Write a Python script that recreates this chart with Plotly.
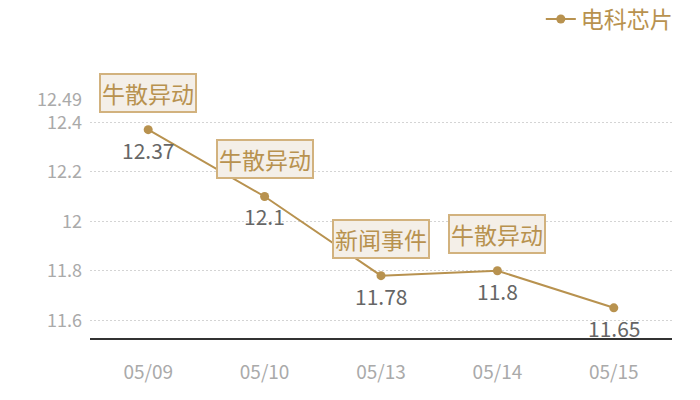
import plotly.graph_objects as go

dates = ["05/09", "05/10", "05/13", "05/14", "05/15"]
prices = [12.37, 12.1, 11.78, 11.8, 11.65]
price_text = ["12.37", "12.1", "11.78", "11.8", "11.65"]
events = ["牛散异动", "牛散异动", "新闻事件", "牛散异动", None]
y_ticks = [11.6, 11.8, 12.0, 12.2, 12.4, 12.49]
y_tick_text = ["11.6", "11.8", "12", "12.2", "12.4", "12.49"]
series_name = "电科芯片"

gold = "#b8924f"
font_family = "Noto Sans CJK SC, Noto Sans, sans-serif"

fig = go.Figure()
fig.add_trace(go.Scatter(
    x=dates, y=prices, name=series_name,
    mode="lines+markers",
    line=dict(color=gold, width=2),
    marker=dict(color=gold, size=9),
))

annotations = []
for d, p, t in zip(dates, prices, price_text):
    annotations.append(dict(
        x=d, y=p, text=t, showarrow=False, yanchor="top", yshift=-3,
        font=dict(size=21, color="#666666", family=font_family),
    ))
for d, p, e in zip(dates, prices, events):
    if e:
        annotations.append(dict(
            x=d, y=p, text=e, showarrow=False, yanchor="bottom", yshift=17,
            font=dict(size=23, color=gold, family=font_family),
            bgcolor="#f4efe8", bordercolor="#d2b27e", borderwidth=2, borderpad=1,
        ))

fig.update_layout(
    width=700, height=400,
    margin=dict(l=90, r=28, t=100, b=62, autoexpand=False),
    plot_bgcolor="white", paper_bgcolor="white",
    font=dict(family=font_family),
    showlegend=True,
    legend=dict(
        orientation="h", x=1.01, xanchor="right", y=1.34, yanchor="middle",
        font=dict(size=23, color=gold, family=font_family),
        bgcolor="rgba(0,0,0,0)",
    ),
    annotations=annotations,
    xaxis=dict(
        type="category", range=[-0.5, len(dates) - 0.5],
        showgrid=False, zeroline=False,
        showline=True, linecolor="#333333", linewidth=1.5,
        ticks="", tickfont=dict(size=19, color="#aaaaaa"),
        ticklabelstandoff=16,
    ),
    yaxis=dict(
        range=[11.528, 12.49], tickvals=y_ticks, ticktext=y_tick_text,
        showgrid=True, gridcolor="#d4d4d4", griddash="2px,2px", gridwidth=1,
        zeroline=False, showline=False, ticks="",
        tickfont=dict(size=18, color="#aaaaaa"), ticklabelstandoff=7,
    ),
)

fig.write_html("out.html")
